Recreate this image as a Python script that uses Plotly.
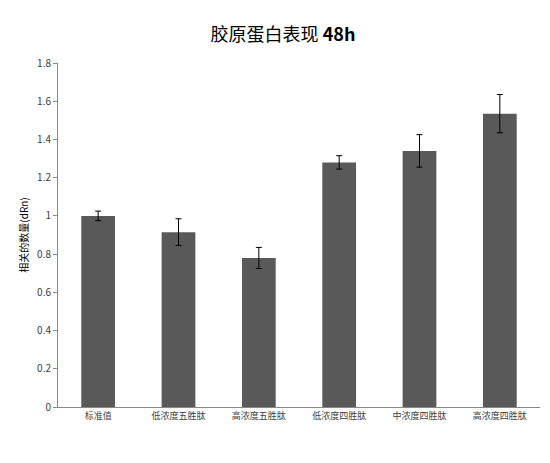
import plotly.graph_objects as go

categories = ["标准值", "低浓度五胜肽", "高浓度五胜肽", "低浓度四胜肽", "中浓度四胜肽", "高浓度四胜肽"]
values = [1.0, 0.915, 0.78, 1.28, 1.34, 1.535]
errors = [0.025, 0.07, 0.055, 0.035, 0.085, 0.1]
y_ticks = [0, 0.2, 0.4, 0.6, 0.8, 1, 1.2, 1.4, 1.6, 1.8]

fig = go.Figure(go.Bar(
    x=categories, y=values,
    marker=dict(color="#595959", line=dict(width=0)),
    error_y=dict(type="data", array=errors, color="black", thickness=1, width=3),
    width=0.42,
))
fig.update_layout(
    width=550, height=463, plot_bgcolor="white", paper_bgcolor="white",
    margin=dict(l=50, r=18, t=55, b=64),
    title=dict(text="胶原蛋白表现 <b>48h</b>", x=0.5, y=0.955, xanchor="center",
               font=dict(family="Noto Sans CJK SC", size=18, color="black")),
    font=dict(family="Noto Sans CJK SC", size=10, color="#404040"),
    showlegend=False,
)
fig.update_xaxes(showline=True, linecolor="#888", ticks="", tickfont=dict(size=9))
fig.update_yaxes(range=[0, 1.8], tickvals=y_ticks, ticktext=[str(t) for t in y_ticks],
                 showline=True, linecolor="#888", ticks="outside", ticklen=4, tickcolor="#888",
                 showgrid=False, zeroline=False,
                 title=dict(text="相关的数量(dRn)", font=dict(size=10, color="black"), standoff=6))
fig.write_html("out.html")
